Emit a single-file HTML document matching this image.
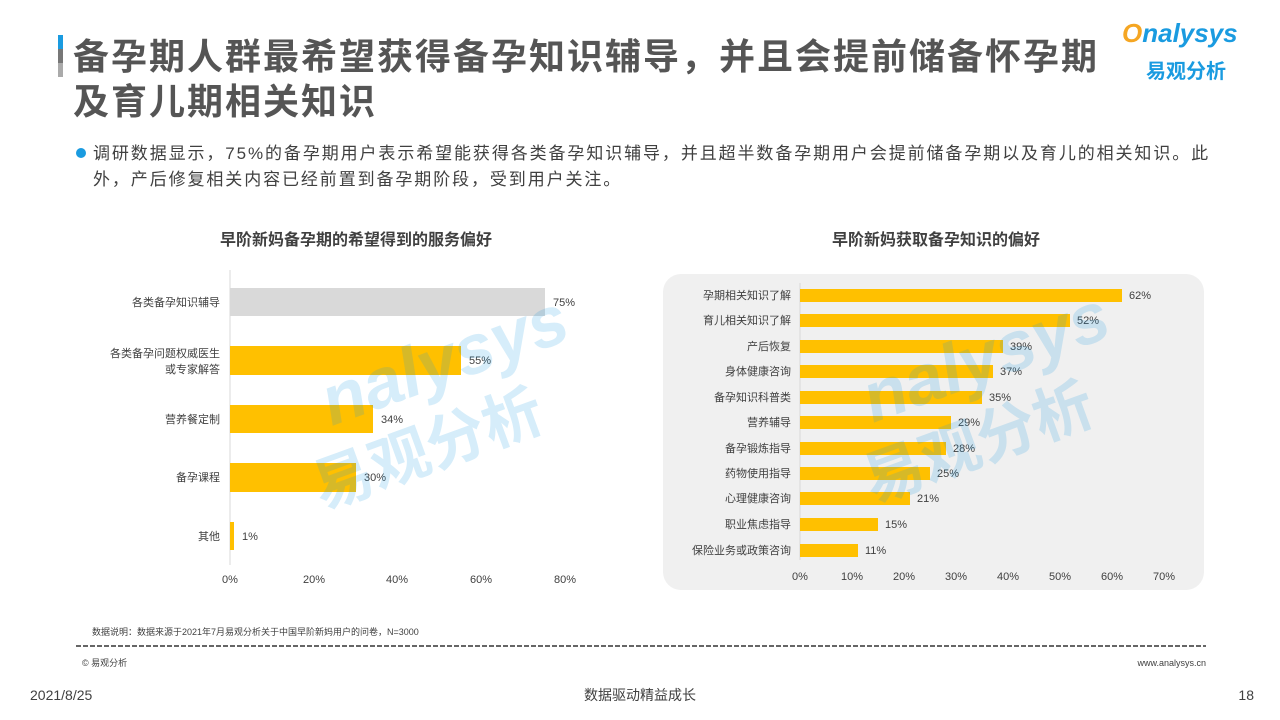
<!DOCTYPE html>
<html><head><meta charset="utf-8"><style>
body{margin:0;width:1280px;height:720px;background:#fff;position:relative;overflow:hidden;font-family:"Liberation Sans","Noto Sans CJK SC",sans-serif;color:#404040}
.a{position:absolute;white-space:nowrap}
</style></head><body>
<div class="a" style="left:58px;top:35px;width:5px;height:14px;background:#1a9be0"></div>
<div class="a" style="left:58px;top:49px;width:5px;height:14px;background:#777"></div>
<div class="a" style="left:58px;top:63px;width:5px;height:14px;background:#aaa"></div>
<div class="a" style="left:73px;top:34px;font-size:36px;letter-spacing:2px;font-weight:bold;color:#555;line-height:45px">备孕期人群最希望获得备孕知识辅导，并且会提前储备怀孕期<br>及育儿期相关知识</div>
<div class="a" style="left:1122px;top:18px;font-size:26px;font-weight:bold;font-style:italic;color:#1a9be0"><span style="color:#f5a623">O</span>nalysys</div>
<div class="a" style="left:1146px;top:55px;font-size:20px;font-weight:bold;color:#1a9be0">易观分析</div>
<div class="a" style="left:76px;top:148px;width:10px;height:10px;border-radius:50%;background:#1a9be0"></div>
<div class="a" style="left:93px;top:141px;font-size:17px;letter-spacing:1.9px;line-height:26px;color:#404040">调研数据显示，75%的备孕期用户表示希望能获得各类备孕知识辅导，并且超半数备孕期用户会提前储备孕期以及育儿的相关知识。此<br>外，产后修复相关内容已经前置到备孕期阶段，受到用户关注。</div>
<div class="a" style="left:220px;top:226px;font-size:16px;font-weight:bold;color:#404040">早阶新妈备孕期的希望得到的服务偏好</div>
<div class="a" style="left:832px;top:226px;font-size:16px;font-weight:bold;color:#404040">早阶新妈获取备孕知识的偏好</div>
<svg class="a" style="left:0;top:0" width="1280" height="720">
<g font-family="Liberation Sans,Noto Sans CJK SC,sans-serif" font-size="11" fill="#404040">
<line x1="230" y1="270" x2="230" y2="565" stroke="#d9d9d9"/>
<rect x="230" y="288" width="315" height="28" fill="#d9d9d9"/><text x="553" y="306">75%</text>
<rect x="230" y="346" width="231" height="29" fill="#ffc000"/><text x="469" y="364">55%</text>
<rect x="230" y="405" width="143" height="28" fill="#ffc000"/><text x="381" y="423">34%</text>
<rect x="230" y="463" width="126" height="29" fill="#ffc000"/><text x="364" y="481">30%</text>
<rect x="230" y="522" width="4" height="28" fill="#ffc000"/><text x="242" y="540">1%</text>
<g text-anchor="end"><text x="220" y="306">各类备孕知识辅导</text><text x="220" y="357">各类备孕问题权威医生</text><text x="220" y="373">或专家解答</text><text x="220" y="423">营养餐定制</text><text x="220" y="481">备孕课程</text><text x="220" y="540">其他</text></g>
<g text-anchor="middle"><text x="230" y="583">0%</text><text x="314" y="583">20%</text><text x="397" y="583">40%</text><text x="481" y="583">60%</text><text x="565" y="583">80%</text></g>
<rect x="663" y="274" width="541" height="316" rx="18" fill="#f0f0f0"/>
<line x1="800" y1="283" x2="800" y2="560" stroke="#d9d9d9"/>
<g fill="#ffc000">
<rect x="800" y="289" width="322" height="13"/><rect x="800" y="314" width="270" height="13"/><rect x="800" y="340" width="203" height="13"/><rect x="800" y="365" width="193" height="13"/><rect x="800" y="391" width="182" height="13"/><rect x="800" y="416" width="151" height="13"/><rect x="800" y="442" width="146" height="13"/><rect x="800" y="467" width="130" height="13"/><rect x="800" y="492" width="110" height="13"/><rect x="800" y="518" width="78" height="13"/><rect x="800" y="544" width="58" height="13"/></g>
<text x="1129" y="299">62%</text><text x="1077" y="324">52%</text><text x="1010" y="350">39%</text><text x="1000" y="375">37%</text><text x="989" y="401">35%</text><text x="958" y="426">29%</text><text x="953" y="452">28%</text><text x="937" y="477">25%</text><text x="917" y="502">21%</text><text x="885" y="528">15%</text><text x="865" y="554">11%</text>
<g text-anchor="end"><text x="791" y="299">孕期相关知识了解</text><text x="791" y="324">育儿相关知识了解</text><text x="791" y="350">产后恢复</text><text x="791" y="375">身体健康咨询</text><text x="791" y="401">备孕知识科普类</text><text x="791" y="426">营养辅导</text><text x="791" y="452">备孕锻炼指导</text><text x="791" y="477">药物使用指导</text><text x="791" y="502">心理健康咨询</text><text x="791" y="528">职业焦虑指导</text><text x="791" y="554">保险业务或政策咨询</text></g>
<g text-anchor="middle"><text x="800" y="580">0%</text><text x="852" y="580">10%</text><text x="904" y="580">20%</text><text x="956" y="580">30%</text><text x="1008" y="580">40%</text><text x="1060" y="580">50%</text><text x="1112" y="580">60%</text><text x="1164" y="580">70%</text></g>
<text x="92" y="635" font-size="9">数据说明：数据来源于2021年7月易观分析关于中国早阶新妈用户的问卷，N=3000</text>
<line x1="76" y1="646" x2="1206" y2="646" stroke="#666" stroke-width="2" stroke-dasharray="5,2"/>
<text x="82" y="666" font-size="9">© 易观分析</text>
<text x="1206" y="666" font-size="9" text-anchor="end">www.analysys.cn</text>
<text x="30" y="700" font-size="14">2021/8/25</text>
<text x="640" y="700" font-size="14" text-anchor="middle">数据驱动精益成长</text>
<text x="1254" y="700" font-size="14" text-anchor="end">18</text>
</g>
<g opacity="0.18" fill="#1a9be0" font-family="Liberation Sans,Noto Sans CJK SC,sans-serif" font-weight="bold">
<text x="320" y="400" font-size="70" font-style="italic" transform="rotate(-20 400 380)">nalysys</text>
<text x="310" y="480" font-size="60" transform="rotate(-20 400 460)">易观分析</text>
<text x="860" y="390" font-size="70" font-style="italic" transform="rotate(-20 960 370)">nalysys</text>
<text x="860" y="470" font-size="60" transform="rotate(-20 960 450)">易观分析</text>
</g>
</svg>
</body></html>
